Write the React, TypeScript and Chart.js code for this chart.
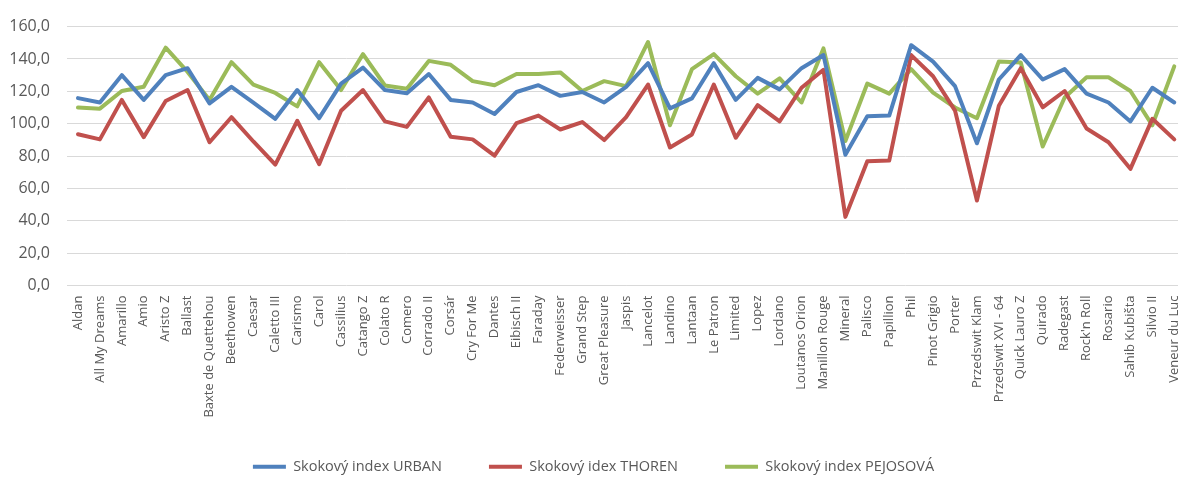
import React, { useEffect, useRef } from "react";
import { Chart, registerables } from "chart.js";

Chart.register(...registerables);

// Horse names (x categories)
const categories: string[] = [
  "Aldan", "All My Dreams", "Amarillo", "Amio", "Aristo Z", "Ballast",
  "Baxte de Quettehou", "Beethowen", "Caesar", "Caletto III", "Carismo", "Carol",
  "Cassilius", "Catango Z", "Colato R", "Comero", "Corrado II", "Corsár",
  "Cry For Me", "Dantes", "Eibisch II", "Faraday", "Federweisser", "Grand Step",
  "Great Pleasure", "Jaspis", "Lancelot", "Landino", "Lantaan", "Le Patron",
  "Limited", "Lopez", "Lordano", "Loutanos Orion", "Manillon Rouge", "Mineral",
  "Palisco", "Papillion", "Phil", "Pinot Grigio", "Porter", "Przedswit Klam",
  "Przedswit XVI - 64", "Quick Lauro Z", "Quirado", "Radegast", "Rock'n Roll",
  "Rosario", "Sahib Kubišta", "Silvio II", "Veneur du Luc",
];

const seriesNames: string[] = [
  "Skokový index URBAN",
  "Skokový idex THOREN",
  "Skokový index PEJOSOVÁ",
];

const urban: number[] = [
  115.8, 113.1, 130, 114.7, 130, 134.3, 112.5, 122.8, 113, 103, 120.8, 103.4,
  124.8, 134.7, 120.8, 118.8, 130.7, 114.7, 113.1, 106, 119.6, 123.8, 117.2, 119.6,
  113.1, 122.8, 137.4, 109.5, 115.6, 137.4, 114.7, 128.3, 121.2, 134.3, 142.4, 80.8,
  104.6, 105, 148.5, 138.4, 123.2, 87.9, 127.3, 142.4, 127.3, 133.7, 118.6,
  113.1, 101.4, 122.2, 113.1,
];

const thoren: number[] = [
  93.5, 90.3, 114.7, 91.7, 114, 120.8, 88.5, 104, 89, 74.7, 101.8, 75,
  108, 120.8, 101.4, 98, 116.2, 91.9, 90.3, 80.2, 100.4, 105, 96.4, 101,
  89.9, 104, 124.2, 85.3, 93.3, 124.2, 91.3, 111.5, 101.4, 122.2, 133.3, 42.4,
  76.8, 77.2, 142.4, 129.3, 108.1, 52.5, 111.1, 134.3, 110.1, 120.2, 97,
  88.5, 72.1, 103, 90.3,
];

const pejosova: number[] = [
  110, 109.3, 120.2, 122.8, 147, 132, 114.7, 138, 124.2, 119, 110.7, 138,
  120.8, 143, 123.6, 121.6, 138.8, 136.4, 126.3, 123.8, 130.7, 130.7, 131.7, 120.2,
  126.3, 123.2, 150.5, 99, 133.7, 143, 129.3, 118.6, 128, 113.1, 146.5, 89.3,
  124.8, 118.6, 133.7, 119.2, 110, 103.4, 138.4, 137.8, 85.9, 116.2, 128.7,
  128.7, 120.2, 99, 135.4,
];

const colors: string[] = ["#4F81BD", "#C0504D", "#9BBB59"];

const TEXT = "#595959";
const FONT = "'Open Sans', 'DejaVu Sans', sans-serif";

// Pulls the legend row up closer to the category labels, while keeping the
// wide horizontal gap between legend entries.
const legendLift = {
  id: "legendLift",
  afterLayout(chart: any) {
    const lg = chart.legend;
    if (lg) {
      lg.top -= 13;
      lg.bottom -= 13;
    }
  },
};

export default function App() {
  const canvasRef = useRef<HTMLCanvasElement | null>(null);

  useEffect(() => {
    const canvas = canvasRef.current;
    if (!canvas) return;

    const values = [urban, thoren, pejosova];

    const chart = new Chart(canvas, {
      type: "line",
      data: {
        labels: categories,
        datasets: values.map((data, i) => ({
          label: seriesNames[i],
          data,
          borderColor: colors[i],
          backgroundColor: colors[i],
          borderWidth: 4,
          pointRadius: 0,
          pointHoverRadius: 0,
          tension: 0,
          fill: false,
          borderJoinStyle: "round" as const,
          borderCapStyle: "round" as const,
        })),
      },
      plugins: [legendLift],
      options: {
        responsive: false,
        animation: false,
        devicePixelRatio: 1,
        layout: { padding: { top: 23, left: 0, right: 13, bottom: 0 } },
        plugins: {
          tooltip: { enabled: false },
          legend: {
            position: "bottom",
            labels: {
              color: TEXT,
              font: { family: FONT, size: 14.5 },
              boxWidth: 33,
              boxHeight: 4,
              padding: 47,
              generateLabels: (c: Chart) =>
                c.data.datasets.map((ds: any, i: number) => ({
                  text: ds.label,
                  fillStyle: colors[i],
                  strokeStyle: colors[i],
                  lineWidth: 0,
                  fontColor: TEXT,
                  hidden: false,
                  datasetIndex: i,
                })),
            },
          },
        },
        scales: {
          x: {
            type: "category",
            offset: true,
            grid: { display: false, drawTicks: false },
            border: { display: false },
            ticks: {
              autoSkip: false,
              minRotation: 90,
              maxRotation: 90,
              padding: 10,
              color: TEXT,
              font: { family: FONT, size: 13 },
            },
            afterFit: (s: any) => {
              s.height = 140;
            },
          },
          y: {
            min: 0,
            max: 160,
            grid: { color: "#D9D9D9", lineWidth: 1, drawTicks: false },
            border: { display: false },
            ticks: {
              stepSize: 20,
              padding: 17,
              color: TEXT,
              font: { family: FONT, size: 16 },
              callback: (v: any) => Number(v).toFixed(1).replace(".", ","),
            },
            afterFit: (s: any) => {
              s.width = 67;
            },
          },
        },
      },
    });

    return () => chart.destroy();
  }, []);

  return (
    <div
      style={{
        position: "fixed",
        left: 0,
        top: 0,
        width: 1178,
        height: 477,
        overflow: "hidden",
        background: "#ffffff",
      }}
    >
      <canvas ref={canvasRef} width={1200} height={497} style={{ display: "block" }} />
    </div>
  );
}
